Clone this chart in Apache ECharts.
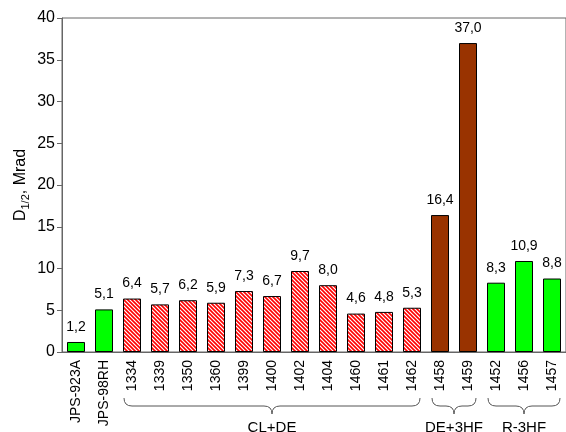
<!DOCTYPE html>
<html>
<head>
<meta charset="utf-8">
<script src="https://cdn.jsdelivr.net/npm/echarts@6/dist/echarts.min.js"></script>
<style>
  html, body { margin: 0; padding: 0; background: #fff; }
  #chart { width: 566px; height: 432px; }
</style>
</head>
<body>
<div id="chart"></div>
<script>
// samples and their D1/2 values (Mrad)
const samples = ['JPS-923A', 'JPS-98RH', '1334', '1339', '1350', '1360', '1399', '1400', '1402', '1404', '1460', '1461', '1462', '1458', '1459', '1452', '1456', '1457']
const values = [1.2, 5.1, 6.4, 5.7, 6.2, 5.9, 7.3, 6.7, 9.7, 8.0, 4.6, 4.8, 5.3, 16.4, 37.0, 8.3, 10.9, 8.8]
// fill kind per sample: ref / hatch / brown
const kinds = ['ref', 'ref', 'hatch', 'hatch', 'hatch', 'hatch', 'hatch', 'hatch', 'hatch', 'hatch', 'hatch', 'hatch', 'hatch', 'brown', 'brown', 'ref', 'ref', 'ref']
// groups under the braces: [label, first index, last index]
const groups = [['CL+DE', 2, 12], ['DE+3HF', 13, 14], ['R-3HF', 15, 17]]
const yTicks = [0, 40, 5]

const font = 'Arial, "Liberation Sans", sans-serif'

// red diagonal stripes
const makeHatch = () => {
  const n = 4
  const c = document.createElement('canvas')
  c.width = n
  c.height = n
  const ctx = c.getContext('2d')
  ctx.fillStyle = '#fff'
  ctx.fillRect(0, 0, n, n)
  ctx.strokeStyle = '#ff0000'
  ctx.lineWidth = 1.6
  ctx.beginPath()
  ctx.moveTo(-1, -1); ctx.lineTo(n + 1, n + 1)
  ctx.moveTo(-1, n - 1); ctx.lineTo(1, n + 1)
  ctx.moveTo(n - 1, -1); ctx.lineTo(n + 1, 1)
  ctx.stroke()
  return c
}
const hatch = { image: makeHatch(), repeat: 'repeat' }
const fills = { ref: '#00ff00', hatch: hatch, brown: '#993300' }

const chart = echarts.init(document.getElementById('chart'))

const option = {
  animation: false,
  grid: {
    left: 62, top: 18, right: -6, bottom: 80,
    show: true, borderColor: '#666', borderWidth: 1
  },
  xAxis: {
    type: 'category',
    data: samples,
    axisLine: { lineStyle: { color: '#666' } },
    axisTick: { length: 5, lineStyle: { color: '#666' } },
    axisLabel: { interval: 0, rotate: 90, margin: 8, color: '#000', fontSize: 14, fontFamily: font }
  },
  yAxis: {
    type: 'value',
    min: yTicks[0], max: yTicks[1], interval: yTicks[2],
    splitLine: { show: false },
    axisLine: { show: true, lineStyle: { color: '#666' } },
    axisTick: { show: true, length: 5, lineStyle: { color: '#666' } },
    axisLabel: { margin: 7, color: '#000', fontSize: 16, fontFamily: font }
  },
  series: [{
    type: 'bar',
    barWidth: 18,
    data: values.map((v, i) => ({
      value: v,
      itemStyle: { color: fills[kinds[i]], borderColor: '#000', borderWidth: 1 }
    })),
    label: {
      show: true,
      position: 'top',
      distance: 8,
      color: '#000',
      fontSize: 14,
      fontFamily: font,
      formatter: p => p.value.toFixed(1).replace('.', ',')
    }
  }]
}
chart.setOption(option)

// curly braces under groups, built from lines and quadratic curves
const base = chart.convertToPixel({ yAxisIndex: 0 }, 0)
const yTop = base + 46, yMid = base + 54, yTip = base + 62
const stroke = { stroke: '#555', lineWidth: 1, fill: null }
const curve = (x1, y1, cx, cy, x2, y2) => ({
  type: 'bezierCurve', shape: { x1, y1, cpx1: cx, cpy1: cy, x2, y2 }, style: stroke
})
const line = (x1, y1, x2, y2) => ({ type: 'line', shape: { x1, y1, x2, y2 }, style: stroke })
const brace = (x1, x2) => {
  const xc = (x1 + x2) / 2
  const r = 8
  return [
    curve(x1, yTop, x1, yMid, x1 + r, yMid),
    line(x1 + r, yMid, xc - r, yMid),
    curve(xc - r, yMid, xc, yMid, xc, yTip),
    curve(xc, yTip, xc, yMid, xc + r, yMid),
    line(xc + r, yMid, x2 - r, yMid),
    curve(x2 - r, yMid, x2, yMid, x2, yTop)
  ]
}
const graphics = []
groups.forEach(([name, a, b]) => {
  const x1 = chart.convertToPixel({ xAxisIndex: 0 }, a) - 8
  const x2 = chart.convertToPixel({ xAxisIndex: 0 }, b) + 8
  graphics.push(...brace(x1, x2))
  graphics.push({
    type: 'text',
    x: (x1 + x2) / 2,
    y: yTip + 14,
    style: { text: name, fill: '#000', font: '15px ' + font, textAlign: 'center', textVerticalAlign: 'middle' }
  })
})

// y axis title with subscript, rotated
const yMidAxis = (chart.convertToPixel({ yAxisIndex: 0 }, yTicks[0]) + chart.convertToPixel({ yAxisIndex: 0 }, yTicks[1])) / 2
graphics.push({
  type: 'text',
  x: 21,
  y: yMidAxis,
  rotation: Math.PI / 2,
  style: {
    text: '{a|D}{b|1/2}{a|, Mrad}',
    align: 'center',
    verticalAlign: 'middle',
    rich: {
      a: { font: '16px ' + font, lineHeight: 20, fill: '#000' },
      b: { font: '11px ' + font, lineHeight: 6, verticalAlign: 'bottom', fill: '#000' }
    }
  }
})
chart.setOption({ graphic: graphics })
</script>
</body>
</html>
